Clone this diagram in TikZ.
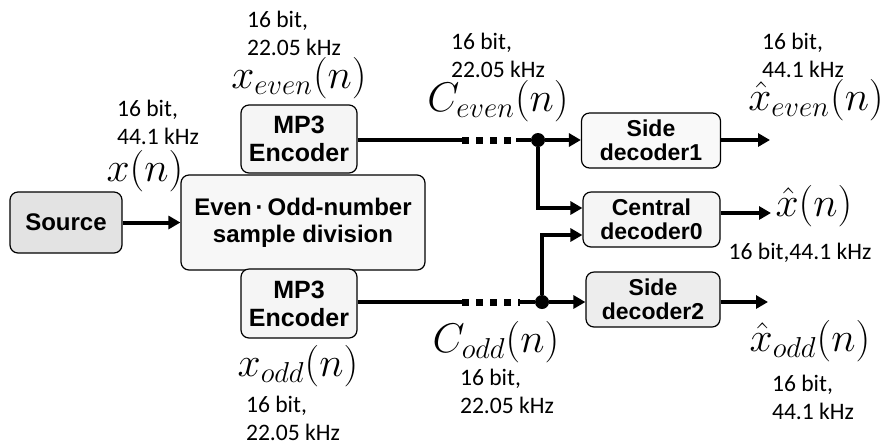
\documentclass[tikz,border=0pt]{standalone}
\usepackage{fontspec}
\usepackage{amsmath}
\setmainfont{Carlito}
\newfontfamily\boxfont{Liberation Sans}
\usetikzlibrary{arrows.meta}
\tikzset{
  blk/.style={draw, rounded corners=4pt, line width=0.6pt, align=center,
    font=\boxfont\bfseries\fontsize{12}{13.5}\selectfont, inner sep=1pt},
  encfont/.style={font=\boxfont\bfseries\fontsize{12.5}{14}\selectfont},
  decfont/.style={font=\boxfont\bfseries\fontsize{11.5}{12}\selectfont},
  rate/.style={align=left, font=\fontsize{11.8}{14}\selectfont, inner sep=0pt},
  sig/.style={font=\fontsize{19.5}{22}\selectfont, inner sep=0pt},
  wire/.style={line width=2pt},
  arr/.style={wire, -{Triangle[length=6pt,width=6.5pt]}},
  dotted3/.style={line width=3.5pt, dash pattern=on 3.5pt off 3.5pt},
  junc/.style={circle, fill, inner sep=0pt, minimum size=7pt}
}

\begin{document}
\begin{tikzpicture}[x=0.5pt, y=-0.5pt]
            \useasboundingbox (0,0) rectangle (881,446);

            %Nodes
            \node[blk, fill=gray!22, minimum width=56pt, minimum height=30.5pt] at (66,222.5) (src) {Source};
            \node[blk, fill=gray!6, minimum width=122pt, minimum height=47.5pt] at (303,222.5) (div) {Even\,·\,Odd-number\\sample division};
            \node[blk, encfont, fill=gray!8, minimum width=58pt, minimum height=34pt] at (299,139) (encE) {MP3\\Encoder};
            \node[blk, encfont, fill=gray!8, minimum width=58pt, minimum height=34.5pt] at (299,303.5) (encO) {MP3\\Encoder};

            \node[blk, decfont, fill=gray!5, minimum width=69.5pt, minimum height=27.5pt] at (651,140.5) (dec1) {Side\\decoder1};
            \node[blk, decfont, fill=gray!8, minimum width=68.5pt, minimum height=27.5pt] at (651.5,219.5) (dec0) {Central\\decoder0};
            \node[blk, decfont, fill=gray!14, minimum width=67pt, minimum height=27.5pt] at (653,299.5) (dec2) {Side\\decoder2};

            \node[junc] at (538,140) (jE) {};
            \node[junc] at (542,302) (jO) {};

            \coordinate (dE1) at (462,140);
            \coordinate (dE2) at (516,140);
            \coordinate (dO1) at (462,302);
            \coordinate (dO2) at (520,302);
            \coordinate (outE) at (770,140);
            \coordinate (out0) at (771,213);
            \coordinate (outO) at (768,302);

            %Labels
            \node[rate] at (158,122) (rIn) {16 bit,\\44.1 kHz};
            \node[sig] at (145,171) (xIn) {$x(n)$};
            \node[rate] at (294,33) (rE) {16 bit,\\22.05 kHz};
            \node[sig] at (299,78) (xE) {$x_{even}(n)$};
            \node[rate] at (498,55) (rCE) {16 bit,\\22.05 kHz};
            \node[sig] at (498,101) (cE) {$C_{even}(n)$};
            \node[rate] at (803,55) (rYE) {16 bit,\\44.1 kHz};
            \node[sig] at (816,100) (yE) {$\hat{x}_{even}(n)$};
            \node[sig] at (814,206) (y0) {$\hat{x}(n)$};
            \node[rate] at (800,253) (rY0) {16 bit,44.1 kHz};
            \node[sig] at (496,342) (cO) {$C_{odd}(n)$};
            \node[rate] at (507,391) (rCO) {16 bit,\\22.05 kHz};
            \node[sig] at (810,341) (yO) {$\hat{x}_{odd}(n)$};
            \node[rate] at (813,397) (rYO) {16 bit,\\44.1 kHz};
            \node[sig] at (298,366) (xO) {$x_{odd}(n)$};
            \node[rate] at (293,418) (rO) {16 bit,\\22.05 kHz};

            %Lines
            \draw[arr] (src) -- (div);

            \draw[wire] (encE.east |- jE) -- (dE1);
            \draw[dotted3] (dE1) -- (dE2);
            \draw[wire] (dE2) -- (jE);
            \draw[arr] (jE) -- (dec1.west |- jE);
            \draw[arr] (jE) |- ([yshift=5.75pt]dec0.west);

            \draw[wire] (encO.east |- jO) -- (dO1);
            \draw[dotted3] (dO1) -- (dO2);
            \draw[wire] (dO2) -- (jO);
            \draw[arr] (jO) -- (dec2.west |- jO);
            \draw[arr] (jO) |- ([yshift=-7.75pt]dec0.west);

            \draw[arr] (dec1.east |- jE) -- (outE);
            \draw[arr] (dec0.east |- out0) -- (out0);
            \draw[arr] (dec2.east |- jO) -- (outO);
        \end{tikzpicture}
\end{document}
